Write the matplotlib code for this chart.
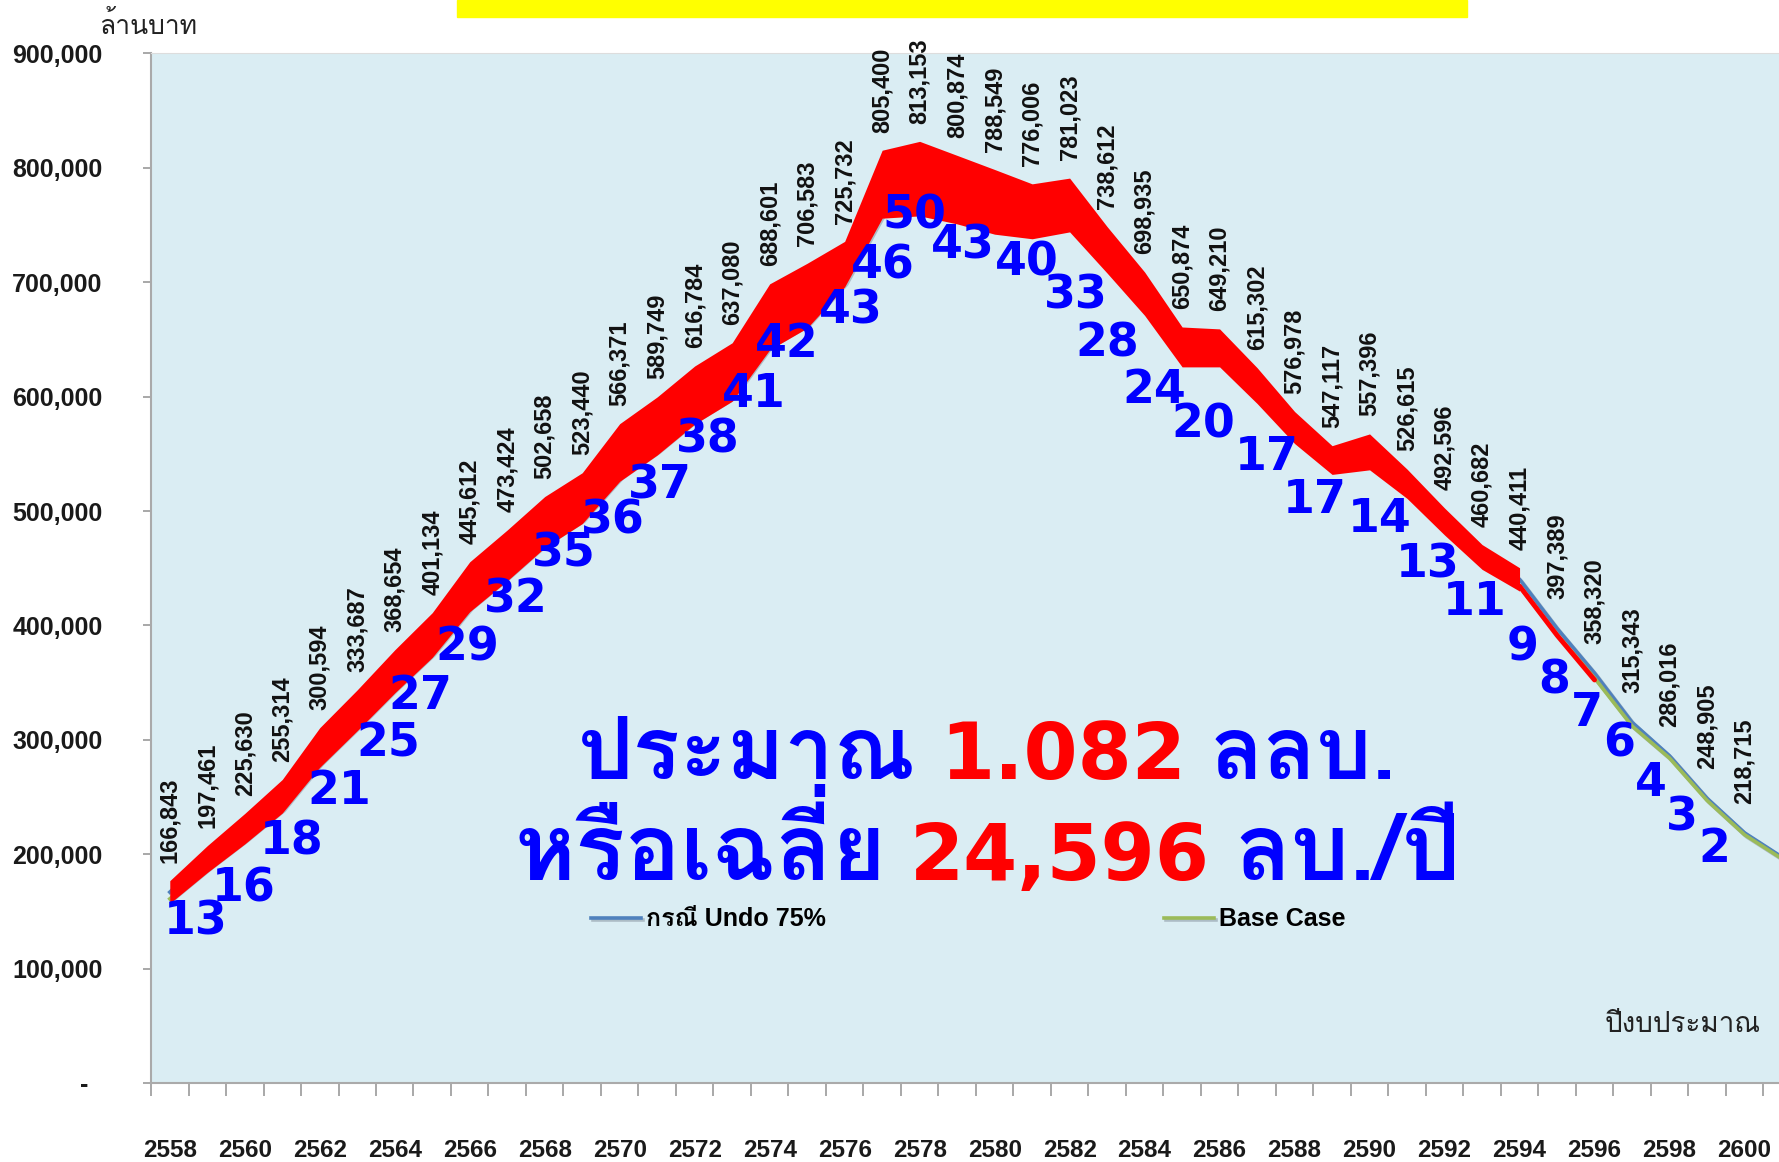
import matplotlib
matplotlib.use('agg')
import matplotlib.pyplot as plt
import matplotlib.patheffects as pe
from matplotlib import font_manager
from matplotlib.ft2font import FT2Font
from matplotlib.ticker import FuncFormatter, MultipleLocator
from matplotlib.patches import Rectangle

years = list(range(2558, 2602))
undo_75 = [166843, 197461, 225630, 255314, 300594, 333687, 368654, 401134, 445612, 473424,
           502658, 523440, 566371, 589749, 616784, 637080, 688601, 706583, 725732, 805400,
           813153, 800874, 788549, 776006, 781023, 738612, 698935, 650874, 649210, 615302,
           576978, 547117, 557396, 526615, 492596, 460682, 440411, 397389, 358320, 315343,
           286016, 248905, 218715, 197525]
base_case = [161000, 188000, 213000, 240000, 280000, 312000, 345000, 376000, 416000, 443000,
             472000, 493000, 530000, 553000, 580000, 600000, 645000, 664000, 700000, 760000,
             762000, 755000, 746000, 742000, 748000, 712000, 675000, 630000, 630000, 598000,
             563000, 536000, 540000, 515000, 483000, 453000, 434000, 392000, 354000, 312000,
             284000, 247000, 217000, 196000]

# hand-written blue numbers along the curve
marks = [13, 16, 18, 21, 25, 27, 29, 32, 35, 36, 37, 38, 41, 42, 43, 46, 50, 43, 40, 33,
         28, 24, 20, 17, 17, 14, 13, 11, 9, 8, 7, 6, 4, 3, 2]
mark_x = [2558.68, 2559.98, 2561.25, 2562.52, 2563.82, 2564.67, 2565.94, 2567.24, 2568.51,
          2569.81, 2571.08, 2572.35, 2573.59, 2574.47, 2576.16, 2577.01, 2577.86, 2579.16,
          2580.85, 2582.16, 2583.00, 2584.27, 2585.57, 2587.27, 2588.54, 2590.27, 2591.54,
          2592.81, 2594.08, 2594.92, 2595.80, 2596.65, 2597.49, 2598.34, 2599.19]
mark_y = [141, 170, 211, 255, 296, 338, 380, 422, 462, 491, 522, 562, 602, 646, 675, 714,
          758, 732, 717, 688, 646, 605, 575, 547, 509, 493, 453, 420, 380, 351, 323, 296,
          262, 232, 204]

red_thick_end = 2594
red_thin_end = 2596


def find_thai_font():
    info = {}
    for f in font_manager.fontManager.ttflist:
        try:
            ok = 0x0E01 in FT2Font(f.fname).get_charmap()
        except Exception:
            ok = False
        if ok:
            w = f.weight
            if isinstance(w, str):
                w = font_manager.weight_dict.get(w, 400)
            info.setdefault(f.name, set()).add(w)
    prefs = ['Tahoma', 'Noto Sans Thai', 'Noto Sans Thai UI', 'Loma', 'Garuda', 'Umpush',
             'Waree', 'Tlwg Typo', 'Laksaman', 'Norasi', 'Kinnari']
    bolds = [n for n, ws in info.items() if max(ws) >= 600]
    for p in prefs:
        if p in bolds:
            return p, True
    if bolds:
        return bolds[0], True
    for p in prefs:
        if p in info:
            return p, False
    return (list(info)[0], False) if info else ('DejaVu Sans', False)


thai, thai_has_bold = find_thai_font()
arial = ['Liberation Sans', thai, 'DejaVu Sans']
bigfont = [thai, 'DejaVu Sans']

fig = plt.figure(figsize=(17.79, 11.62), dpi=100)
ax = fig.add_axes([0.0849, 0.068, 0.9151, 0.886])
ax.set_facecolor('#DAEDF3')

shadow = [pe.SimpleLineShadow(offset=(1.5, -1.5), shadow_color='#7f8c99', alpha=0.5), pe.Normal()]
l1, = ax.plot(years, undo_75, color='#4F81BD', lw=2.6, path_effects=shadow, zorder=3)
l2, = ax.plot(years, base_case, color='#9BBB59', lw=2.6, path_effects=shadow, zorder=3)

for x, v in zip(years, undo_75):
    ax.annotate(f'{v:,}', (x, v), xytext=(0, 21), textcoords='offset points',
                rotation=90, ha='center', va='bottom', fontsize=17, fontweight='bold',
                family=arial, color='#111111', zorder=4)

# red marker stroke over the curve
thick = [i for i, y in enumerate(years) if y <= red_thick_end]
ax.fill_between([years[i] for i in thick],
                [base_case[i] - 4000 for i in thick],
                [undo_75[i] + 10000 for i in thick],
                color='#FF0000', lw=0, zorder=5)
thin = [i for i, y in enumerate(years) if red_thick_end <= y <= red_thin_end]
ax.plot([years[i] for i in thin], [undo_75[i] - 6000 for i in thin],
        color='#FF0000', lw=3.5, zorder=5, solid_capstyle='round')

for m, x, y in zip(marks, mark_x, mark_y):
    ax.text(x, y * 1000, str(m), ha='center', va='center', fontsize=33,
            fontweight='bold', color='#0000FF', family='DejaVu Sans', zorder=6)

ax.set_xlim(2557.5, 2600.92)
ax.set_ylim(0, 900000)
ax.yaxis.set_major_locator(MultipleLocator(100000))
ax.yaxis.set_major_formatter(FuncFormatter(lambda v, p: '-  ' if v == 0 else f'{int(v):,}'))
ax.set_xticks(range(2558, 2601, 2))
ax.xaxis.set_minor_locator(MultipleLocator(1, offset=0.5))
ax.tick_params(axis='x', which='major', length=0, pad=40)
ax.tick_params(axis='x', which='minor', length=9, width=1.2, color='#999999', direction='out')
ax.tick_params(axis='y', length=6, width=1.2, color='#999999', direction='out', pad=29)
for lab in ax.get_xticklabels():
    lab.set_family(arial)
    lab.set_fontweight('bold')
    lab.set_fontsize(17.5)
    lab.set_color('#1a1a1a')
for lab in ax.get_yticklabels():
    lab.set_family(arial)
    lab.set_fontweight('bold')
    lab.set_fontsize(18)
    lab.set_color('#1a1a1a')

for s in ['left', 'bottom']:
    ax.spines[s].set_color('#aaaaaa')
    ax.spines[s].set_linewidth(1.5)
ax.spines['top'].set_color('#dddddd')
ax.spines['right'].set_visible(False)

leg = ax.legend([l1, l2], ['กรณี Undo 75%', 'Base Case'], ncol=2, loc='center',
                bbox_to_anchor=(0.502, 0.159), frameon=False, columnspacing=13.5,
                handlelength=2.0, handletextpad=0.2,
                prop={'family': arial, 'weight': 'bold', 'size': 18})

fig.text(100 / 1779, 1 - 25 / 1162, 'ล้านบาท', ha='left', va='center', fontsize=19,
         family=arial, color='#222222')
ax.text(0.989, 0.056, 'ปีงบประมาณ', transform=ax.transAxes, ha='right', va='center',
        fontsize=20, family=arial, color='#222222')

fig.patches.append(Rectangle((457 / 1779, 1 - 17 / 1162), 1010 / 1779, 17 / 1162,
                             transform=fig.transFigure, color='#FFFF00', zorder=0))


def colored_line(parts, xc, y, size, target):
    fig.canvas.draw()
    r = fig.canvas.get_renderer()
    gap = 24
    items = []
    for s, c, fam, is_thai in parts:
        t = fig.text(0, y, s, color=c, family=fam, fontsize=size, fontweight='bold',
                     va='baseline', ha='left', zorder=7)
        if is_thai and not thai_has_bold:
            t.set_path_effects([pe.withStroke(linewidth=3, foreground=c)])
        items.append([t, t.get_window_extent(r).width, is_thai])
    thai_w = sum(w for _, w, th in items if th)
    rest = sum(w for _, w, th in items if not th) + gap * (len(items) - 1)
    k = min(max((target - rest) / thai_w, 0.8), 1.6)
    for it in items:
        if it[2]:
            it[0].set_fontsize(size * k)
            it[1] = it[0].get_window_extent(r).width
    total = sum(w for _, w, _ in items) + gap * (len(items) - 1)
    x = xc * fig.bbox.width - total / 2
    for t, w, _ in items:
        t.set_x(x / fig.bbox.width)
        x += w + gap


colored_line([('ประมาณ', '#0000FF', bigfont, True), ('1.082', '#FF0000', ['DejaVu Sans'], False),
              ('ลลบ.', '#0000FF', bigfont, True)], 0.555, 0.330, 56, 819)
colored_line([('หรือเฉลี่ย', '#0000FF', bigfont, True), ('24,596', '#FF0000', ['DejaVu Sans'], False),
              ('ลบ./ปี', '#0000FF', bigfont, True)], 0.555, 0.243, 56, 947)

plt.savefig('out.png', dpi=100)
plt.close()
